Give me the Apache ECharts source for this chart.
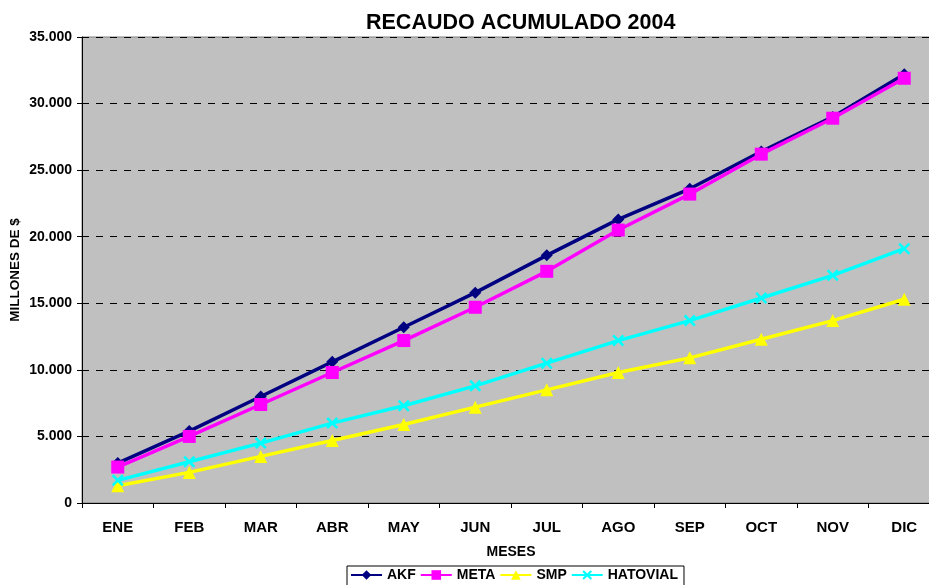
<!DOCTYPE html>
<html>
<head>
    <meta charset="UTF-8">
    <title>Recaudo acumulado 2004</title>
    <script src="https://cdn.jsdelivr.net/npm/echarts@6/dist/echarts.min.js"></script>
    <style>
        html, body { margin: 0; padding: 0; background: #fff; }
        #chart { width: 929px; height: 585px; }
    </style>
</head>
<body>
<div id="chart"></div>
<script type="text/javascript">
    // meses y valores (millones de $)
    var meses = ['ENE', 'FEB', 'MAR', 'ABR', 'MAY', 'JUN', 'JUL', 'AGO', 'SEP', 'OCT', 'NOV', 'DIC'];
    var akf = [3000, 5400, 8000, 10600, 13200, 15800, 18600, 21300, 23600, 26400, 29000, 32200];
    var meta = [2700, 5000, 7400, 9800, 12200, 14700, 17400, 20500, 23200, 26200, 28900, 31900];
    var smp = [1300, 2300, 3500, 4700, 5900, 7200, 8500, 9800, 10900, 12300, 13700, 15300];
    var hatovial = [1700, 3100, 4500, 6000, 7300, 8800, 10500, 12200, 13700, 15400, 17100, 19100];

    var crossPath = 'path://M0,1.5L1.5,0L5,3.5L8.5,0L10,1.5L6.5,5L10,8.5L8.5,10L5,6.5L1.5,10L0,8.5L3.5,5Z';

    function serie(name, data, color, symbol, size) {
        return {
            name: name,
            type: 'line',
            data: data,
            symbol: symbol,
            symbolSize: size,
            showAllSymbol: true,
            lineStyle: { color: color, width: 3.5 },
            itemStyle: { color: color },
            emphasis: { disabled: true }
        };
    }

    var chart = echarts.init(document.getElementById('chart'));
    var option = {
        animation: false,
        textStyle: { fontFamily: 'Liberation Sans, Arial, sans-serif' },
        title: {
            text: 'RECAUDO ACUMULADO 2004',
            left: 361,
            top: 7,
            textStyle: { fontSize: 21.5, fontWeight: 'bold', color: '#000' }
        },
        legend: {
            left: 347,
            top: 566,
            itemWidth: 31,
            itemHeight: 12,
            itemGap: 4,
            padding: [2, 6, 4, 3],
            borderColor: '#000',
            borderWidth: 1,
            textStyle: { fontSize: 14, fontWeight: 'bold', color: '#000' },
            data: ['AKF', 'META', 'SMP', 'HATOVIAL']
        },
        grid: {
            left: 82,
            top: 37,
            right: -11,
            bottom: 82,
            outerBoundsMode: 'none',
            containLabel: false,
            show: true,
            backgroundColor: '#C0C0C0',
            borderColor: '#808080',
            borderWidth: 1
        },
        xAxis: {
            type: 'category',
            data: meses,
            name: 'MESES',
            nameLocation: 'middle',
            nameGap: 42,
            nameTextStyle: { fontSize: 14, fontWeight: 'bold', color: '#000' },
            axisLine: { lineStyle: { color: '#000', width: 1 } },
            axisTick: { show: true, alignWithLabel: false, length: 5, lineStyle: { color: '#000' } },
            axisLabel: { fontSize: 15, fontWeight: 'bold', color: '#000', margin: 17 },
            splitLine: { show: false }
        },
        yAxis: {
            type: 'value',
            min: 0,
            max: 35000,
            interval: 5000,
            name: 'MILLONES DE $',
            nameLocation: 'middle',
            nameRotate: 90,
            nameGap: 60,
            nameMoveOverlap: false,
            nameTextStyle: { fontSize: 13.5, fontWeight: 'bold', color: '#000' },
            axisLine: { show: true, lineStyle: { color: '#000', width: 1 } },
            axisTick: { show: true, length: 5, lineStyle: { color: '#000' } },
            axisLabel: {
                fontSize: 14,
                fontWeight: 'bold',
                color: '#000',
                margin: 10,
                formatter: function (v) {
                    return v === 0 ? '0' : String(v).replace(/\B(?=(\d{3})+(?!\d))/g, '.');
                }
            },
            splitLine: { show: true, lineStyle: { color: '#000', type: [7, 7], width: 1 } }
        },
        series: [
            serie('AKF', akf, '#000080', 'diamond', 12),
            serie('META', meta, '#FF00FF', 'rect', 13),
            serie('SMP', smp, '#FFFF00', 'triangle', 13),
            serie('HATOVIAL', hatovial, '#00FFFF', crossPath, 12)
        ]
    };
    option && chart.setOption(option);
</script>
</body>
</html>
